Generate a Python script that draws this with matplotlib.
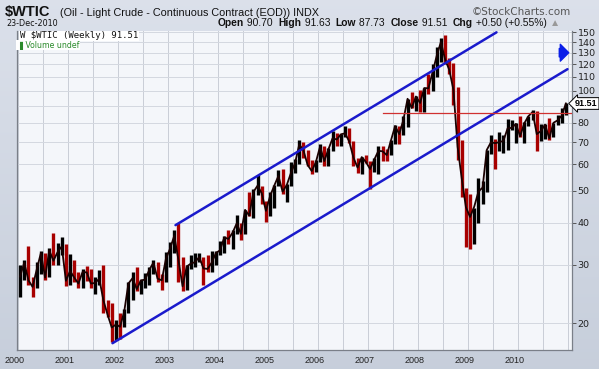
import matplotlib
matplotlib.use("Agg")
import matplotlib.pyplot as plt
import numpy as np
from matplotlib.patches import FancyArrowPatch
from matplotlib.ticker import FixedLocator, NullLocator, FuncFormatter

# monthly high / low / close of $WTIC, Jan 2000 .. Dec 2010
highs = [
    30.0, 31.0, 34.1, 27.5, 30.5, 33.0, 32.5, 33.6, 37.2, 34.9, 36.2, 34.5,
    32.2, 31.0, 28.5, 29.0, 29.6, 29.0, 27.5, 28.8, 30.0, 23.5, 23.0, 20.5,
    21.5, 22.0, 26.5, 28.5, 29.5, 27.0, 28.3, 29.5, 31.0, 30.5, 28.0, 32.7,
    35.0, 38.0, 39.9, 31.5, 30.0, 32.0, 32.5, 32.5, 31.5, 32.0, 33.0, 33.0,
    35.2, 36.5, 38.2, 38.0, 42.3, 40.0, 43.8, 49.4, 50.5, 55.7, 51.5, 46.5,
    49.5, 52.0, 57.6, 58.3, 52.5, 60.9, 62.3, 70.8, 70.0, 66.5, 62.0, 61.8,
    69.2, 68.0, 67.0, 75.4, 74.5, 74.0, 78.4, 77.0, 70.5, 62.5, 63.0, 64.0,
    61.5, 62.5, 68.0, 68.0, 66.8, 70.8, 78.8, 78.5, 83.9, 94.5, 99.3, 96.5,
    100.1, 102.1, 111.8, 119.9, 135.1, 143.7, 147.3, 125.5, 120.9, 102.5, 71.0, 51.0,
    49.0, 44.5, 54.7, 53.5, 66.5, 73.4, 71.5, 75.0, 73.5, 82.0, 81.5, 80.0,
    83.9, 80.5, 83.9, 87.2, 87.0, 79.2, 79.2, 82.5, 80.0, 84.4, 88.6, 91.6,
]
lows = [
    24.0, 27.0, 26.0, 23.9, 25.5, 28.0, 27.0, 27.5, 30.0, 30.0, 32.0, 25.8,
    26.0, 26.5, 25.5, 25.5, 26.8, 25.5, 24.5, 26.0, 21.5, 20.8, 17.5, 17.8,
    17.9, 19.5, 21.5, 23.5, 25.0, 24.5, 25.5, 26.0, 28.0, 26.5, 25.2, 26.5,
    29.5, 32.5, 26.5, 25.0, 25.1, 29.0, 29.5, 30.5, 26.0, 28.5, 28.5, 30.0,
    32.0, 32.5, 34.5, 33.5, 37.0, 35.5, 37.0, 42.0, 41.5, 48.5, 45.5, 40.3,
    42.0, 44.5, 51.5, 49.0, 46.2, 51.5, 56.5, 60.0, 62.5, 59.5, 56.3, 57.0,
    61.0, 59.5, 59.5, 66.0, 68.0, 68.0, 72.5, 69.5, 59.5, 56.5, 56.0, 60.5,
    50.5, 57.0, 56.0, 61.5, 61.5, 64.0, 69.0, 69.0, 73.5, 77.5, 88.5, 87.0,
    86.1, 86.5, 98.0, 100.0, 110.0, 122.0, 120.5, 112.0, 90.5, 62.0, 48.0, 33.9,
    33.5, 34.5, 40.0, 45.5, 49.5, 64.5, 58.3, 66.0, 65.0, 66.5, 76.0, 69.5,
    72.4, 69.5, 78.0, 81.5, 66.0, 70.5, 71.5, 70.8, 72.5, 79.0, 80.0, 84.5,
]
closes = [
    27.6, 30.4, 26.9, 25.7, 29.0, 32.5, 27.4, 33.1, 30.8, 32.7, 34.0, 26.8,
    28.7, 27.4, 26.3, 28.5, 28.4, 26.3, 26.4, 27.2, 23.4, 21.2, 19.4, 19.8,
    19.5, 21.7, 26.3, 27.3, 25.3, 26.9, 27.0, 28.9, 30.4, 27.2, 26.9, 31.2,
    33.5, 36.6, 31.0, 25.8, 29.6, 30.2, 30.5, 31.6, 29.2, 29.1, 30.4, 32.5,
    33.1, 36.2, 35.8, 37.4, 39.9, 37.1, 43.8, 42.1, 49.6, 51.8, 49.1, 43.5,
    48.2, 51.8, 55.4, 49.7, 52.0, 56.5, 60.6, 68.9, 66.2, 59.8, 57.3, 61.0,
    67.9, 61.4, 66.6, 71.9, 71.3, 73.9, 74.4, 70.3, 62.9, 58.7, 63.1, 61.0,
    58.1, 62.0, 65.9, 65.7, 64.0, 70.7, 78.2, 74.0, 81.7, 94.5, 88.7, 96.0,
    91.8, 101.8, 101.6, 113.5, 127.4, 140.0, 124.1, 115.5, 100.6, 67.8, 54.4, 44.6,
    41.7, 44.8, 49.7, 51.1, 66.3, 69.9, 69.5, 70.0, 70.6, 77.0, 77.3, 79.4,
    72.9, 79.7, 83.8, 86.2, 74.0, 75.6, 79.0, 71.9, 80.0, 81.4, 84.1, 91.5,
]
dates = 2000 + (np.arange(len(closes)) + 0.5) / 12.0

# trend channel and horizontal support drawn by hand on the chart
upper_x, upper_y = [2003.15, 2009.57], [39.4, 149.7]
lower_x, lower_y = [2001.89, 2010.99], [17.4, 116.0]
support_x, support_y = [2007.29, 2011.1], [85.5, 85.5]

year_labels = [str(y) for y in range(2000, 2011)]
price_ticks = [20, 30, 40, 50, 60, 70, 80, 90, 100, 110, 120, 130, 140, 150]

W, H = 599, 369
fig = plt.figure(figsize=(W / 100, H / 100), dpi=100)

# background gradient
bg = fig.add_axes([0, 0, 1, 1], zorder=-5)
grad = np.linspace(0, 1, 256).reshape(-1, 1)
top_c = np.array([0.86, 0.88, 0.92])
bot_c = np.array([0.78, 0.81, 0.86])
img = top_c + (bot_c - top_c) * grad[..., None]
img = np.repeat(img, 2, axis=1)
bg.imshow(img, aspect='auto', extent=[0, 1, 0, 1])
bg.set_axis_off()

left, right, top, bottom = 17, 572, 30.7, 350
ax = fig.add_axes([left / W, 1 - bottom / H, (right - left) / W, (bottom - top) / H])
ax.set_facecolor('#f4f6fa')
ax.set_yscale('log')
ax.set_ylim(16.6, 151.4)
ax.set_xlim(1999.98, 2011.08)

# grid
for gx in np.arange(2000, 2011.01, 0.5):
    ax.axvline(gx, color='#c9cdd6', lw=0.7, zorder=0)
for gy in price_ticks:
    ax.axhline(gy, color='#d4d8e0', lw=0.7, zorder=0)

# price bars
prev = closes[0]
for d, hi, lo, c in zip(dates, highs, lows, closes):
    col = '#000000' if c >= prev else '#a80000'
    ax.vlines(d, lo, hi, color=col, lw=2.4, zorder=3)
    prev = c
ax.plot(dates, closes, color='#1a0000', lw=1.3, zorder=3)

# hand drawn lines
ax.plot(upper_x, upper_y, color='#1a1acc', lw=1.8, zorder=4, solid_capstyle='round')
ax.plot(lower_x, lower_y, color='#1a1acc', lw=1.8, zorder=4, solid_capstyle='round')
ax.plot(support_x, support_y, color='#d03030', lw=0.9, zorder=4)

arrow = FancyArrowPatch((2010.77, 130), (2011.07, 130),
                        arrowstyle='simple,head_length=0.55,head_width=1.1,tail_width=0.55',
                        mutation_scale=11, color='#0a1ee8', zorder=5)
ax.add_patch(arrow)

# axes styling
ax.spines['top'].set_visible(False)
for s in ['left', 'right', 'bottom']:
    ax.spines[s].set_color('#7a7f88')
    ax.spines[s].set_linewidth(0.9)

ax.yaxis.tick_right()
ax.yaxis.set_major_locator(FixedLocator(price_ticks))
ax.yaxis.set_minor_locator(NullLocator())
ax.yaxis.set_major_formatter(FuncFormatter(lambda v, p: '' if round(v) == 90 else '%d' % v))
ax.tick_params(axis='y', length=3, width=0.7, color='#555', labelsize=6.8,
               labelcolor='#222', pad=1)
ax.set_xticks([])
for i, lab in enumerate(year_labels):
    fig.text((18 + 50 * i - 3) / W, 1 - 363 / H, lab, ha='center', va='baseline',
             fontsize=6.5, color='#222', family='Liberation Sans')

# header text
fig.text(5 / W, 1 - 16 / H, '$WTIC', fontsize=10.5, fontweight='bold',
         family='Liberation Sans', color='#111')
fig.text(60 / W, 1 - 16 / H, '(Oil - Light Crude - Continuous Contract (EOD)) INDX',
         fontsize=7.8, family='Liberation Sans', color='#111')
fig.text(571 / W, 1 - 15 / H, '\u00a9StockCharts.com', fontsize=7.5, ha='right',
         family='DejaVu Sans', color='#555')
fig.text(6 / W, 1 - 26.5 / H, '23-Dec-2010', fontsize=5.8, family='DejaVu Sans',
         color='#111')

parts = [('Open', True), (' 90.70  ', False), ('High', True), (' 91.63  ', False),
         ('Low', True), (' 87.73  ', False), ('Close', True), (' 91.51  ', False),
         ('Chg', True), (' +0.50 (+0.55%) ', False), ('\u25b2', False)]
fig.canvas.draw()
renderer = fig.canvas.get_renderer()
xpos = 218
for txt, bold in parts:
    t = fig.text(xpos / W, 1 - 26.5 / H, txt, fontsize=7.4,
                 fontweight='bold' if bold else 'normal',
                 family='Liberation Sans',
                 color='#999' if txt == '\u25b2' else '#111')
    bb = t.get_window_extent(renderer)
    xpos += bb.width

# legend
fig.text(20 / W, 1 - 38.5 / H, 'W $WTIC (Weekly) 91.51', fontsize=6.5,
         family='DejaVu Sans Mono', color='#111',
         bbox=dict(facecolor='white', edgecolor='none', pad=0.6))
fig.text(17 / W, 1 - 47.5 / H, '\u2590 Volume undef', fontsize=5.6,
         family='DejaVu Sans', color='#2a8a2a',
         bbox=dict(facecolor='white', edgecolor='none', pad=0.5))

# last price label on the axis
fig.text(575 / W, 1 - 103.5 / H, '91.51', fontsize=6.5, fontweight='bold',
         family='Liberation Sans', va='center', ha='left', color='#000',
         bbox=dict(boxstyle='larrow,pad=0.15', facecolor='white',
                   edgecolor='#000', lw=0.7))

fig.savefig('out.png', dpi=100)
